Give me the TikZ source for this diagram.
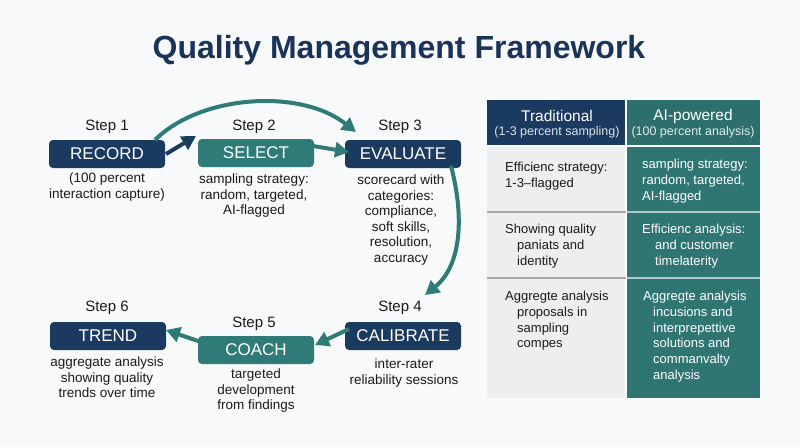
\documentclass[tikz,border=0pt]{standalone}
\usepackage{fontspec}
\setmainfont{Liberation Sans}
\usetikzlibrary{arrows.meta}
\definecolor{navy}{HTML}{1B3A60}
\definecolor{teal}{HTML}{2E7B78}
\definecolor{tealdk}{HTML}{2C6F6D}
\definecolor{tealbody}{HTML}{2F7572}
\definecolor{titlec}{HTML}{1A3358}
\definecolor{bg}{HTML}{F8F9FA}
\definecolor{cellgray}{HTML}{EDEEEF}
\definecolor{txt}{HTML}{1A1A1A}
\tikzset{
  stepbox/.style={rounded corners=4pt, minimum width=116pt, minimum height=28pt, inner sep=0pt, text=white, font=\fontsize{17}{20}\selectfont},
  navybox/.style={stepbox, fill=navy},
  tealbox/.style={stepbox, fill=teal},
  steplabel/.style={font=\fontsize{15}{18}\selectfont, text=txt, inner sep=0pt},
  desc/.style={font=\fontsize{13.5}{15.5}\selectfont, text=txt, align=center, inner sep=0pt, anchor=north},
  celltxt/.style={font=\fontsize{13}{15.7}\selectfont, align=left, inner sep=0pt, anchor=north west},
  flow/.style={line width=4pt, -{Triangle[length=14pt,width=15pt]}},
}
\begin{document}
\begin{tikzpicture}[x=1pt,y=-1pt]
\fill[bg] (0,0) rectangle (800,447);
\useasboundingbox (0,0) rectangle (800,447);
\node[font=\fontsize{32}{38}\selectfont\bfseries, text=titlec] (title) at (399,50) {Quality Management Framework};
% top row
\node[navybox] (rec) at (107,154) {RECORD};
\node[tealbox] (sel) at (256,153) {SELECT};
\node[navybox] (eva) at (403,154) {EVALUATE};
\node[steplabel] (s1) at (107,127) {Step 1};
\node[steplabel] (s2) at (254,127) {Step 2};
\node[steplabel] (s3) at (400,127) {Step 3};
\node[desc] (d1) at (107,173) {(100 percent\\interaction capture)};
\node[desc] (d2) at (254,174) {sampling strategy:\\random, targeted,\\AI-flagged};
\node[desc] (d3) at (401,175) {scorecard with\\categories:\\compliance,\\soft skills,\\resolution,\\accuracy};
% bottom row
\node[navybox] (tre) at (108,336) {TREND};
\node[tealbox] (coa) at (256,350) {COACH};
\node[navybox] (cal) at (403,336) {CALIBRATE};
\node[steplabel] (s6) at (107,308) {Step 6};
\node[steplabel] (s5) at (254,324) {Step 5};
\node[steplabel] (s4) at (400,308) {Step 4};
\node[desc] (d6) at (107,357) {aggregate analysis\\showing quality\\trends over time};
\node[desc] (d5) at (256,369) {targeted\\development\\from findings};
\node[desc] (d4) at (404,359) {inter-rater\\reliability sessions};
% arrows
\coordinate (a1s) at (166,154);
\coordinate (a1e) at (196,136);
\draw[flow, navy] (a1s) -- (a1e);
\coordinate (arcS) at (155,140);
\coordinate (arcE) at (356,132);
\draw[flow, teal] (arcS) .. controls (200,95) and (300,88) .. (arcE);
\coordinate (a2s) at (313,146);
\coordinate (a2e) at (349,152);
\draw[flow, teal] (a2s) -- (a2e);
\coordinate (a3s) at (451,166);
\coordinate (a3e) at (425,295);
\draw[flow, teal] (a3s) .. controls (464,215) and (462,265) .. (a3e);
\coordinate (a4s) at (349,329);
\coordinate (a4e) at (315,345);
\draw[flow, teal] (a4s) -- (a4e);
\coordinate (a5s) at (201,342);
\coordinate (a5e) at (166,330);
\draw[flow, teal] (a5s) -- (a5e);
% table
\fill[navy] (487,100) rectangle (626,145);
\fill[tealdk] (626,100) rectangle (760,145);
\fill[cellgray] (487,146) rectangle (626,398);
\fill[tealbody] (626,146) rectangle (760,398);
\draw[white, line width=1.5pt] (626,100) -- (626,398);
\draw[white, line width=1.5pt] (487,146) -- (760,146);
\draw[gray!70, line width=1.2pt] (487,212) -- (626,212);
\draw[gray!70, line width=1.2pt] (487,278) -- (626,278);
\draw[white!60!tealbody, line width=1.2pt] (627,212) -- (760,212);
\draw[white!60!tealbody, line width=1.2pt] (627,278) -- (760,278);
\node[text=white, font=\fontsize{15.5}{18}\selectfont, inner sep=0pt] (h1a) at (557,116) {Traditional};
\node[text=white!85!navy, font=\fontsize{12.5}{16}\selectfont, inner sep=0pt] (h1b) at (557,132) {(1-3 percent sampling)};
\node[text=white, font=\fontsize{15.5}{18}\selectfont, inner sep=0pt] (h2a) at (693,116) {AI-powered};
\node[text=white!85!teal, font=\fontsize{12.5}{16}\selectfont, inner sep=0pt] (h2b) at (693,132) {(100 percent analysis)};
\node[celltxt, text=txt] (c11) at (505,162) {Efficienc strategy:\\1-3--flagged};
\node[celltxt, text=white] (c12) at (642,159) {sampling strategy:\\random, targeted,\\AI-flagged};
\node[celltxt, text=txt] (c21) at (505,224) {Showing quality\\\hspace*{12pt}paniats and\\\hspace*{12pt}identity};
\node[celltxt, text=white] (c22) at (642,224) {Efficienc analysis:\\\hspace*{13pt}and customer\\\hspace*{13pt}timelaterity};
\node[celltxt, text=txt] (c31) at (505,291) {Aggregte analysis\\\hspace*{12pt}proposals in\\\hspace*{12pt}sampling\\\hspace*{12pt}compes};
\node[celltxt, text=white] (c32) at (643,291) {Aggregte analysis\\\hspace*{10pt}incusions and\\\hspace*{10pt}interprepettive\\\hspace*{10pt}solutions and\\\hspace*{10pt}commanvalty\\\hspace*{10pt}analysis};
\end{tikzpicture}
\end{document}
